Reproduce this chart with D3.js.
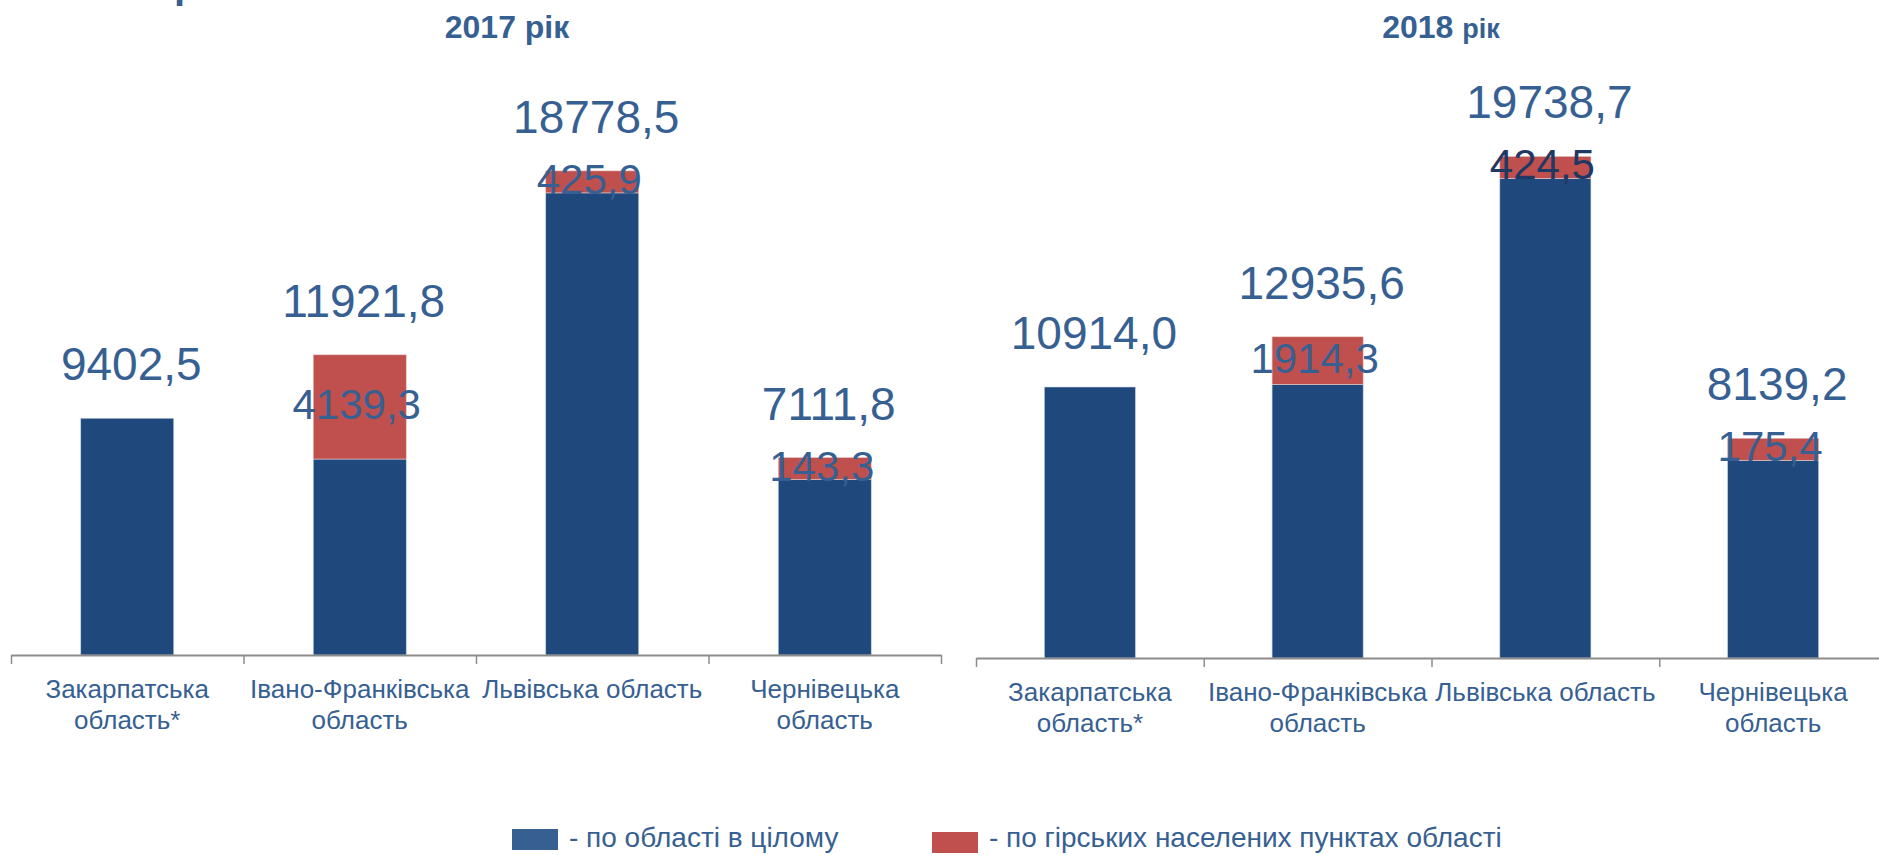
<!DOCTYPE html>
<html>
<head>
<meta charset="utf-8">
<script src="https://cdn.jsdelivr.net/npm/d3@7"></script>
<style>
  body { margin: 0; background: #fff; }
  svg { display: block; font-family: "Liberation Sans", Arial, sans-serif; }
</style>
</head>
<body>
<div id="chart-area"></div>
<script>

// Chart data
var regions = ["Закарпатська область*", "Івано-Франківська область", "Львівська область", "Чернівецька область"];
var regionLines = [["Закарпатська", "область*"], ["Івано-Франківська", "область"], ["Львівська область"], ["Чернівецька", "область"]];

var total2017 = [9402.5, 11921.8, 18778.5, 7111.8];
var mountain2017 = [0, 4139.3, 425.9, 143.3];

var total2018 = [10914.0, 12935.6, 19738.7, 8139.2];
var mountain2018 = [0, 1914.3, 424.5, 175.4];

var legendLabels = ["- по області в цілому", "- по гірських населених пунктах області"];

// SVG Size
var width = 1879,
    height = 855;

var colBlue = "#1f497d",
    colRed = "#c0504d",
    colText = "#376092",
    colLegendBlue = "#376092";

var minRedHeight = 22;

var uaFormat = d3.formatLocale({decimal: ",", thousands: "", grouping: [3], currency: ["", ""]}).format(".1f");

var svg = d3.select("#chart-area").append("svg")
    .attr("width", width)
    .attr("height", height);

// cut-off heading fragment at the top
svg.append("text")
    .attr("x", 174)
    .attr("y", -2)
    .attr("font-size", 40)
    .attr("font-weight", "bold")
    .attr("fill", colText)
    .text("р");

function drawPanel(opts) {
    var g = svg.append("g");

    var x = d3.scaleBand()
        .domain(regions)
        .range([opts.x0, opts.x1])
        .paddingInner(0.6)
        .paddingOuter(0.3);

    var y = d3.scaleLinear()
        .domain([0, 20000])
        .range([opts.base, opts.top]);

    var rows = regions.map(function(r, i) {
        return {name: r, lines: regionLines[i], total: opts.totals[i], mountain: opts.mountain[i]};
    });

    // blue part: region without mountain settlements
    g.selectAll(".bar-blue")
        .data(rows)
        .enter()
        .append("rect")
        .attr("class", "bar-blue")
        .attr("x", function(d) { return x(d.name); })
        .attr("width", x.bandwidth())
        .attr("y", function(d) { return y(d.total - d.mountain); })
        .attr("height", function(d) { return y(0) - y(d.total - d.mountain); })
        .attr("fill", colBlue)
        .attr("stroke", "#c9d4e2")
        .attr("stroke-width", 0.6);

    function redH(d) {
        if (!d.mountain) return 0;
        return Math.max(y(0) - y(d.mountain), minRedHeight);
    }

    var withRed = rows.filter(function(d) { return d.mountain > 0; });

    g.selectAll(".bar-red")
        .data(withRed)
        .enter()
        .append("rect")
        .attr("class", "bar-red")
        .attr("x", function(d) { return x(d.name); })
        .attr("width", x.bandwidth())
        .attr("y", function(d) { return y(d.total - d.mountain) - redH(d); })
        .attr("height", redH)
        .attr("fill", colRed)
        .attr("stroke", "#e8c8c7")
        .attr("stroke-width", 0.6);

    // total labels
    g.selectAll(".lbl-total")
        .data(rows)
        .enter()
        .append("text")
        .attr("class", "lbl-total")
        .attr("x", function(d) { return x(d.name) + x.bandwidth() / 2 + 4; })
        .attr("y", function(d) { return y(d.total - d.mountain) - redH(d) - 38; })
        .attr("text-anchor", "middle")
        .attr("font-size", 46)
        .attr("fill", colText)
        .text(function(d) { return uaFormat(d.total); });

    // mountain labels
    g.selectAll(".lbl-mountain")
        .data(withRed)
        .enter()
        .append("text")
        .attr("class", "lbl-mountain")
        .attr("x", function(d) { return x(d.name) + x.bandwidth() / 2 - 3; })
        .attr("y", function(d) { return y(d.total - d.mountain) - redH(d) / 2 + 12; })
        .attr("text-anchor", "middle")
        .attr("font-size", 42)
        .attr("fill", function(d) { return opts.darkLabel === d.name ? "#1f3864" : colText; })
        .text(function(d) { return uaFormat(d.mountain); });

    // axis with ticks at band edges
    var edge = d3.scaleLinear().domain([0, regions.length]).range([opts.x0, opts.x1]);
    var axis = g.append("g")
        .attr("transform", "translate(0," + opts.base + ")")
        .call(d3.axisBottom(edge)
            .tickValues(d3.range(regions.length + 1))
            .tickSize(9)
            .tickSizeOuter(0)
            .tickFormat(""));
    axis.select(".domain").attr("stroke", "#8c8c8c").attr("stroke-width", 2);
    axis.selectAll(".tick line").attr("stroke", "#8c8c8c").attr("stroke-width", 1.5);

    // category labels
    var cat = g.selectAll(".cat")
        .data(rows)
        .enter()
        .append("text")
        .attr("class", "cat")
        .attr("text-anchor", "middle")
        .attr("font-size", 26)
        .attr("fill", colText);
    cat.selectAll("tspan")
        .data(function(d) { return d.lines.map(function(l) { return {line: l, cx: x(d.name) + x.bandwidth() / 2}; }); })
        .enter()
        .append("tspan")
        .attr("x", function(d) { return d.cx; })
        .attr("y", function(d, i) { return opts.base + 43 + i * 31; })
        .text(function(d) { return d.line; });

    // panel title
    var t = svg.append("text")
        .attr("x", opts.titleX)
        .attr("y", 38)
        .attr("text-anchor", "middle")
        .attr("font-weight", "bold")
        .attr("font-size", 32)
        .attr("fill", colText);
    t.append("tspan").text(opts.year + " ");
    t.append("tspan").attr("font-size", opts.rikSize).text("рік");
}

drawPanel({x0: 11, x1: 941, base: 655, top: 655 - 503.6, totals: total2017, mountain: mountain2017,
    year: "2017", titleX: 507, rikSize: 32, darkLabel: null});
drawPanel({x0: 976, x1: 1887, base: 658, top: 658 - 496.6, totals: total2018, mountain: mountain2018,
    year: "2018", titleX: 1441, rikSize: 27, darkLabel: "Львівська область"});

// Legend
var legendColors = [colLegendBlue, colRed];
var legendX = [512, 932];
var legend = svg.selectAll(".legend")
    .data(legendLabels)
    .enter()
    .append("g")
    .attr("class", "legend")
    .attr("transform", function(d, i) { return "translate(" + legendX[i] + ",0)"; });

legend.append("rect")
    .attr("y", function(d, i) { return 829 + i * 3; })
    .attr("width", 46)
    .attr("height", 21)
    .attr("fill", function(d, i) { return legendColors[i]; });

legend.append("text")
    .attr("x", 57)
    .attr("y", 847)
    .attr("font-size", 28)
    .attr("fill", colText)
    .text(function(d) { return d; });

</script>
</body>
</html>
